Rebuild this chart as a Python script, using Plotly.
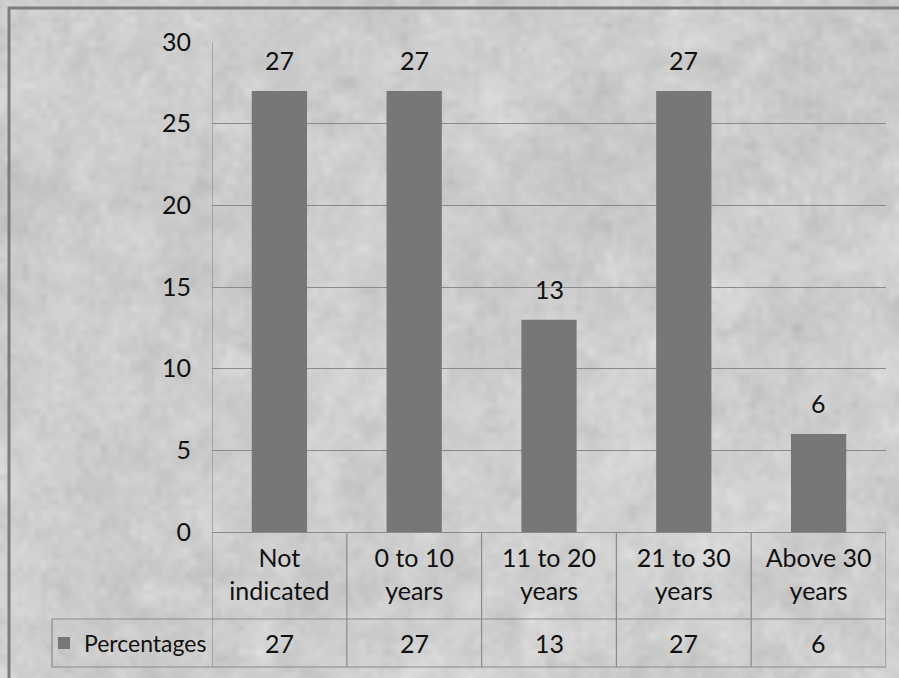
import base64
import struct
import zlib

import numpy as np
import plotly.graph_objects as go

# ---- data -------------------------------------------------------------
categories = ["Not<br>indicated", "0 to 10<br>years", "11 to 20<br>years",
              "21 to 30<br>years", "Above 30<br>years"]
percentages = [27, 27, 13, 27, 6]
series_name = "Percentages"
y_ticks = [0, 5, 10, 15, 20, 25, 30]

# ---- figure geometry (pixels) ----------------------------------------
W, H = 899, 678
M_L, M_R, M_T, M_B = 212, 13, 42, 146
PW, PH = W - M_L - M_R, H - M_T - M_B
ROW_SPLIT = 619      # line between category row and value row
TABLE_BOTTOM = 667
LEGEND_LEFT = 52

FONT = "Lato, Roboto, sans-serif"
FS = 25
TXT = "#111111"
LINE = "#8a8a8a"
BAR = "#777777"


def py(v):
    """pixel row -> paper y"""
    return (M_T + PH - v) / PH


def px(v):
    """pixel column -> paper x"""
    return (v - M_L) / PW


# ---- mottled grey paper texture --------------------------------------
def texture_png(w=300, h=226, seed=7):
    rng = np.random.default_rng(seed)

    def layer(gw, gh, amp):
        g = rng.normal(0, 1, (gh, gw))
        yi = np.linspace(0, gh - 1, h)
        xi = np.linspace(0, gw - 1, w)
        y0 = np.floor(yi).astype(int); y1 = np.minimum(y0 + 1, gh - 1); fy = (yi - y0)[:, None]
        x0 = np.floor(xi).astype(int); x1 = np.minimum(x0 + 1, gw - 1); fx = (xi - x0)[None, :]
        a = g[y0][:, x0] * (1 - fx) + g[y0][:, x1] * fx
        b = g[y1][:, x0] * (1 - fx) + g[y1][:, x1] * fx
        return (a * (1 - fy) + b * fy) * amp

    img = 207 + layer(10, 8, 3.5) + layer(45, 34, 4.5) + layer(150, 113, 4)
    img = np.clip(img, 0, 255).astype(np.uint8)
    raw = b"".join(b"\x00" + img[r].tobytes() for r in range(h))

    def chunk(tag, data):
        c = struct.pack(">I", len(data)) + tag + data
        return c + struct.pack(">I", zlib.crc32(tag + data) & 0xFFFFFFFF)

    png = b"\x89PNG\r\n\x1a\n"
    png += chunk(b"IHDR", struct.pack(">IIBBBBB", w, h, 8, 0, 0, 0, 0))
    png += chunk(b"IDAT", zlib.compress(raw, 9))
    png += chunk(b"IEND", b"")
    return "data:image/png;base64," + base64.b64encode(png).decode()


x_idx = list(range(len(categories)))

fig = go.Figure()
fig.add_trace(go.Bar(
    x=x_idx, y=percentages, name=series_name,
    marker=dict(color=BAR, line=dict(width=0)),
    width=0.41, showlegend=True,
))

shapes = []
# table grid: horizontal rules
for yy in (ROW_SPLIT, TABLE_BOTTOM):
    shapes.append(dict(type="line", xref="paper", yref="paper",
                       x0=px(LEGEND_LEFT), x1=1, y0=py(yy), y1=py(yy),
                       line=dict(color=LINE, width=1.2)))
# category column dividers
for k in range(len(categories) + 1):
    shapes.append(dict(type="line", xref="x", yref="paper",
                       x0=k - 0.5, x1=k - 0.5,
                       y0=py(TABLE_BOTTOM), y1=(0 if k else 1),
                       line=dict(color=LINE, width=1.2)))
# legend cell left edge
shapes.append(dict(type="line", xref="paper", yref="paper",
                   x0=px(LEGEND_LEFT), x1=px(LEGEND_LEFT),
                   y0=py(TABLE_BOTTOM), y1=py(ROW_SPLIT),
                   line=dict(color=LINE, width=1.2)))
# chart frame (top and left edges)
shapes.append(dict(type="line", xref="paper", yref="paper",
                   x0=px(8), x1=px(W + 5), y0=py(8), y1=py(8),
                   line=dict(color="#7c7c7c", width=3)))
shapes.append(dict(type="line", xref="paper", yref="paper",
                   x0=px(9), x1=px(9), y0=py(7), y1=py(H + 5),
                   line=dict(color="#7c7c7c", width=3)))

annotations = []
# value labels above bars
for i, v in enumerate(percentages):
    annotations.append(dict(x=i, y=v, xref="x", yref="y", text=str(v),
                            showarrow=False, yanchor="bottom", yshift=14,
                            font=dict(family=FONT, size=FS, color=TXT)))
# value row of the data table
for i, v in enumerate(percentages):
    annotations.append(dict(x=i, y=py((ROW_SPLIT + TABLE_BOTTOM) / 2), xref="x", yref="paper",
                            text=str(v), showarrow=False, yanchor="middle",
                            font=dict(family=FONT, size=FS, color=TXT)))

fig.update_layout(
    width=W, height=H,
    margin=dict(l=M_L, r=M_R, t=M_T, b=M_B, pad=0),
    paper_bgcolor="#cfcfcf",
    plot_bgcolor="rgba(0,0,0,0)",
    font=dict(family=FONT, size=FS, color=TXT),
    bargap=0.59,
    shapes=shapes,
    annotations=annotations,
    images=[dict(source=texture_png(), xref="paper", yref="paper",
                 x=px(0), y=py(0), sizex=W / PW, sizey=H / PH,
                 xanchor="left", yanchor="top", sizing="stretch", layer="below")],
    legend=dict(x=px(LEGEND_LEFT - 8), y=py((ROW_SPLIT + TABLE_BOTTOM) / 2),
                xanchor="left", yanchor="middle", bgcolor="rgba(0,0,0,0)",
                font=dict(family=FONT, size=23, color=TXT),
                itemwidth=30, tracegroupgap=0),
    xaxis=dict(
        tickmode="array", tickvals=x_idx, ticktext=categories,
        range=[-0.5, len(categories) - 0.5],
        showline=True, linecolor=LINE, linewidth=1.2,
        showgrid=False, zeroline=False, ticks="",
        ticklabelstandoff=4,
        tickfont=dict(family=FONT, size=FS, color=TXT),
    ),
    yaxis=dict(
        range=[0, 30], tickmode="array", tickvals=y_ticks,
        showgrid=True, gridcolor=LINE, gridwidth=1.2,
        zeroline=False, showline=False, ticks="",
        ticklabelstandoff=20,
        tickfont=dict(family=FONT, size=FS, color=TXT),
    ),
)

fig.write_html("out.html")
